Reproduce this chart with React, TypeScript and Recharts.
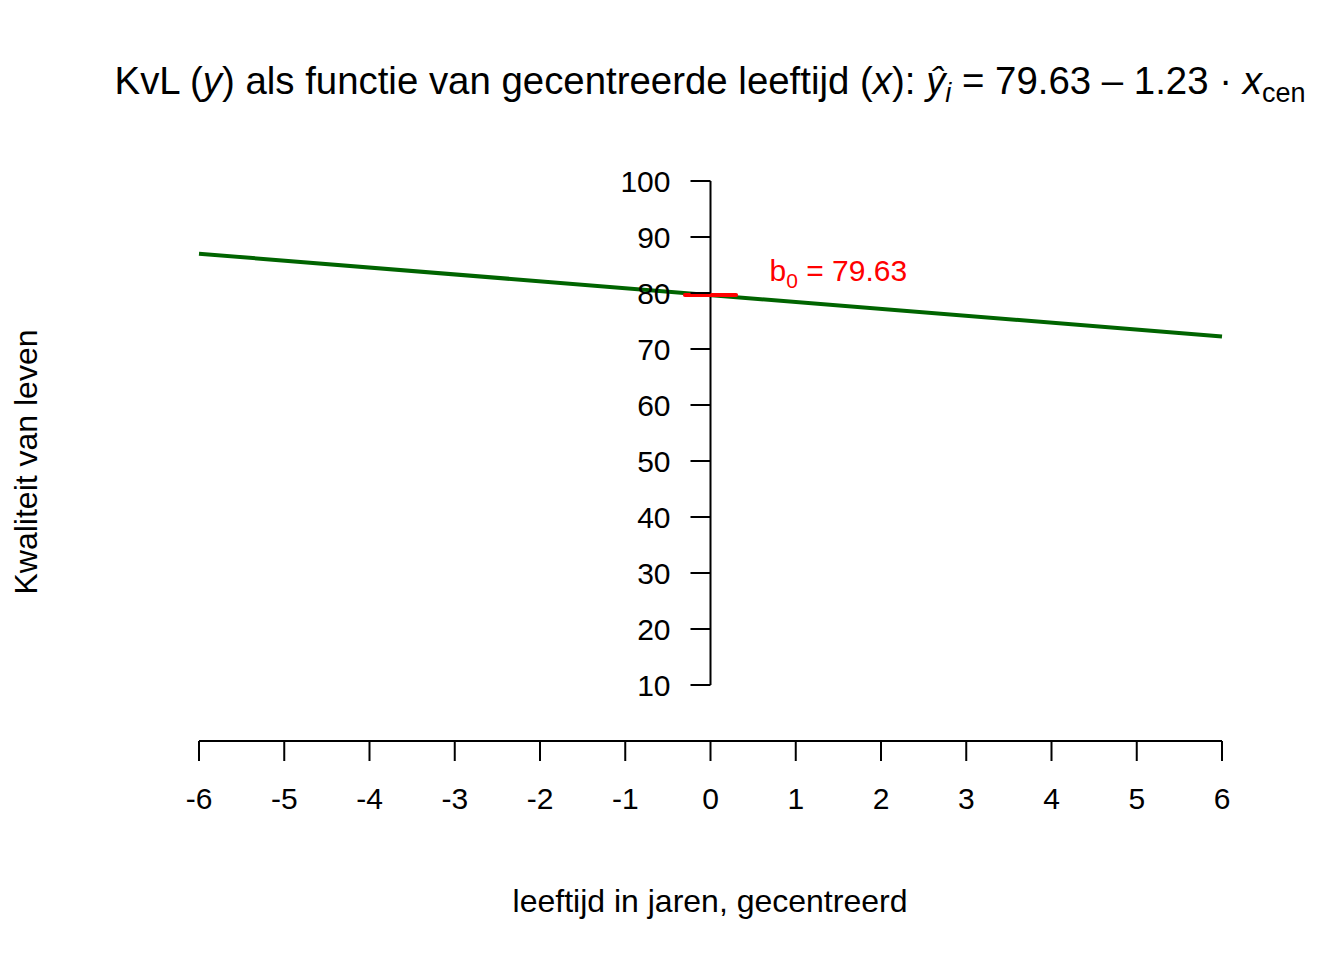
import React from "react";
import { LineChart, Line, XAxis, YAxis, ReferenceLine, ReferenceDot } from "recharts";

const FONT = "'Liberation Sans', Arial, Helvetica, sans-serif";

// fitted regression line, read at the two ends of the x range
const xEnds = [-6, 6];
const yFitted = [87.01, 72.25];

const xTicks = [-6, -5, -4, -3, -2, -1, 0, 1, 2, 3, 4, 5, 6];
const yTicks = [10, 20, 30, 40, 50, 60, 70, 80, 90, 100];

// intercept marker
const intercept = 79.63;
const interceptSpan = [-0.3, 0.3];
const labelAt = { x: 1.5, y: 84 };

const lineData = xEnds.map((x, i) => ({ x, y: yFitted[i] }));

export default function App() {
  return (
    <div
      style={{
        position: "absolute",
        left: 0,
        top: 0,
        width: 1344,
        height: 960,
        background: "#fff",
        fontFamily: FONT,
      }}
    >
      <LineChart
        width={1344}
        height={960}
        data={lineData}
        margin={{ top: 181, right: 122, bottom: 159, left: 199 }}
      >
        <XAxis
          type="number"
          dataKey="x"
          domain={[-6, 6]}
          ticks={xTicks}
          interval={0}
          height={60}
          tickSize={20}
          tickMargin={27}
          axisLine={{ stroke: "#000", strokeWidth: 2 }}
          tickLine={{ stroke: "#000", strokeWidth: 2 }}
          tick={{ fill: "#000", fontSize: 30, fontFamily: FONT }}
        />
        <YAxis type="number" domain={[0, 100]} hide />

        <Line
          dataKey="y"
          stroke="#006400"
          strokeWidth={4}
          dot={false}
          isAnimationActive={false}
        />

        {/* y axis drawn at x = 0 */}
        <ReferenceLine
          segment={[
            { x: 0, y: yTicks[0] },
            { x: 0, y: yTicks[yTicks.length - 1] },
          ]}
          stroke="#000"
          strokeWidth={2}
        />
        {yTicks.map((t) => (
          <ReferenceDot
            key={t}
            x={0}
            y={t}
            r={0}
            shape={(p: any) => (
              <g>
                <line
                  x1={p.cx - 20}
                  x2={p.cx}
                  y1={p.cy}
                  y2={p.cy}
                  stroke="#000"
                  strokeWidth={2}
                />
                <text
                  x={p.cx - 40}
                  y={p.cy}
                  dy="0.36em"
                  textAnchor="end"
                  fontSize={30}
                  fontFamily={FONT}
                  fill="#000"
                >
                  {t}
                </text>
              </g>
            )}
          />
        ))}

        <ReferenceLine
          segment={[
            { x: interceptSpan[0], y: intercept },
            { x: interceptSpan[1], y: intercept },
          ]}
          stroke="#ff0000"
          strokeWidth={4}
          strokeLinecap="round"
        />
        <ReferenceDot
          x={labelAt.x}
          y={labelAt.y}
          r={0}
          shape={(p: any) => (
            <text
              x={p.cx}
              y={p.cy}
              dy="0.33em"
              textAnchor="middle"
              fontSize={30}
              fontFamily={FONT}
              fill="#ff0000"
            >
              b
              <tspan fontSize={21} dy={7}>
                0
              </tspan>
              <tspan dy={-7}>{" = " + intercept.toFixed(2)}</tspan>
            </text>
          )}
        />
      </LineChart>

      <svg
        width={1344}
        height={960}
        style={{ position: "absolute", left: 0, top: 0, pointerEvents: "none" }}
      >
        <text
          x={710}
          y={94}
          textAnchor="middle"
          fontSize={38.4}
          fontFamily={FONT}
          fill="#000"
        >
          {"KvL ("}
          <tspan fontStyle="italic">y</tspan>
          {") als functie van gecentreerde leeftijd ("}
          <tspan fontStyle="italic">x</tspan>
          {"): "}
          <tspan fontStyle="italic">ŷ</tspan>
          <tspan fontStyle="italic" fontSize={27} dy={8}>
            i
          </tspan>
          <tspan dy={-8}>{" = 79.63 – 1.23 · "}</tspan>
          <tspan fontStyle="italic">x</tspan>
          <tspan fontSize={27} dy={8}>
            cen
          </tspan>
        </text>
        <text
          x={710}
          y={912}
          textAnchor="middle"
          fontSize={32}
          fontFamily={FONT}
          fill="#000"
        >
          leeftijd in jaren, gecentreerd
        </text>
        <text
          transform="translate(37,462) rotate(-90)"
          textAnchor="middle"
          fontSize={32}
          fontFamily={FONT}
          fill="#000"
        >
          Kwaliteit van leven
        </text>
      </svg>
    </div>
  );
}
